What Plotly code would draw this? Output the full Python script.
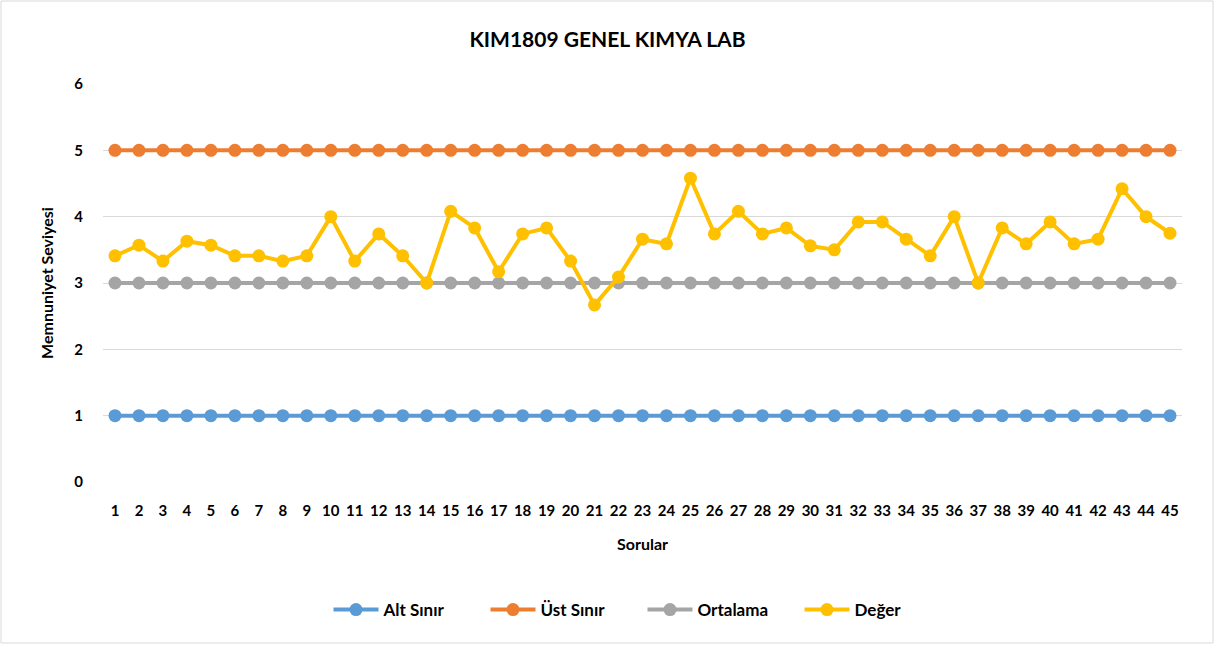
import plotly.graph_objects as go

sorular = list(range(1, 46))
alt_sinir = [1] * 45
ust_sinir = [5] * 45
ortalama = [3] * 45
deger = [3.41, 3.57, 3.33, 3.63, 3.57, 3.41, 3.41, 3.33, 3.41, 4.0,
         3.33, 3.74, 3.41, 3.0, 4.08, 3.83, 3.17, 3.74, 3.83, 3.33,
         2.67, 3.09, 3.66, 3.59, 4.58, 3.74, 4.08, 3.74, 3.83, 3.56,
         3.5, 3.92, 3.92, 3.66, 3.41, 4.0, 3.0, 3.83, 3.59, 3.92,
         3.59, 3.66, 4.42, 4.0, 3.75]

series = [
    ("Alt Sınır", alt_sinir, "#5B9BD5"),
    ("Üst Sınır", ust_sinir, "#ED7D31"),
    ("Ortalama", ortalama, "#A5A5A5"),
    ("Değer", deger, "#FFC000"),
]

FONT = "Lato"
fig = go.Figure()
for name, vals, col in series:
    fig.add_trace(go.Scatter(
        x=sorular, y=vals, name=f"<b>{name}</b>", mode="lines+markers",
        line=dict(color=col, width=4),
        marker=dict(color=col, size=13),
    ))

W, H = 1215, 645
ml, mr, mt, mb = 103, 33, 84, 163
pw, ph = W - ml - mr, H - mt - mb

fig.update_layout(
    width=W, height=H,
    margin=dict(l=ml, r=mr, t=mt, b=mb),
    paper_bgcolor="white", plot_bgcolor="white",
    font=dict(family=FONT, color="black", size=15),
    title=dict(text="<b>KIM1809 GENEL KIMYA LAB</b>", x=0.5, xanchor="center",
               y=1 - 40 / H, yanchor="middle", font=dict(size=21, family=FONT)),
    xaxis=dict(range=[0.5, 45.5], tickmode="array", tickvals=sorular,
               ticktext=[f"<b>{s}</b>" for s in sorular], showgrid=False,
               showline=False, zeroline=False, ticks="outside", ticklen=15,
               tickcolor="rgba(0,0,0,0)", tickangle=0,
               tickfont=dict(size=15),
               title=dict(text="<b>Sorular</b>", font=dict(size=16), standoff=20)),
    yaxis=dict(range=[0, 6], showgrid=True, gridcolor="#D9D9D9",
               gridwidth=1, zeroline=False, showline=False,
               ticks="outside", ticklen=16, tickcolor="rgba(0,0,0,0)",
               tickvals=[0, 1, 2, 3, 4, 5, 6],
               ticktext=[f"<b>{v}</b>" for v in range(7)],
               tickfont=dict(size=15),
               title=dict(text="<b>Memnuniyet Seviyesi</b>", font=dict(size=16), standoff=16)),
    legend=dict(orientation="h", x=0.5, xanchor="center", y=-(610 - 482) / ph,
                yanchor="middle", font=dict(size=17), traceorder="normal",
                itemwidth=45, entrywidth=97, entrywidthmode="pixels"),
    showlegend=True,
    shapes=[dict(type="rect", xref="paper", yref="paper",
                 x0=-(ml - 1) / pw, x1=1 + (mr - 2) / pw,
                 y0=-(mb - 2) / ph, y1=1 + (mt - 1) / ph,
                 line=dict(color="#D9D9D9", width=1), layer="below")],
)

fig.write_html("out.html", post_script="document.body.style.margin='0';",
               config={"displayModeBar": False})
